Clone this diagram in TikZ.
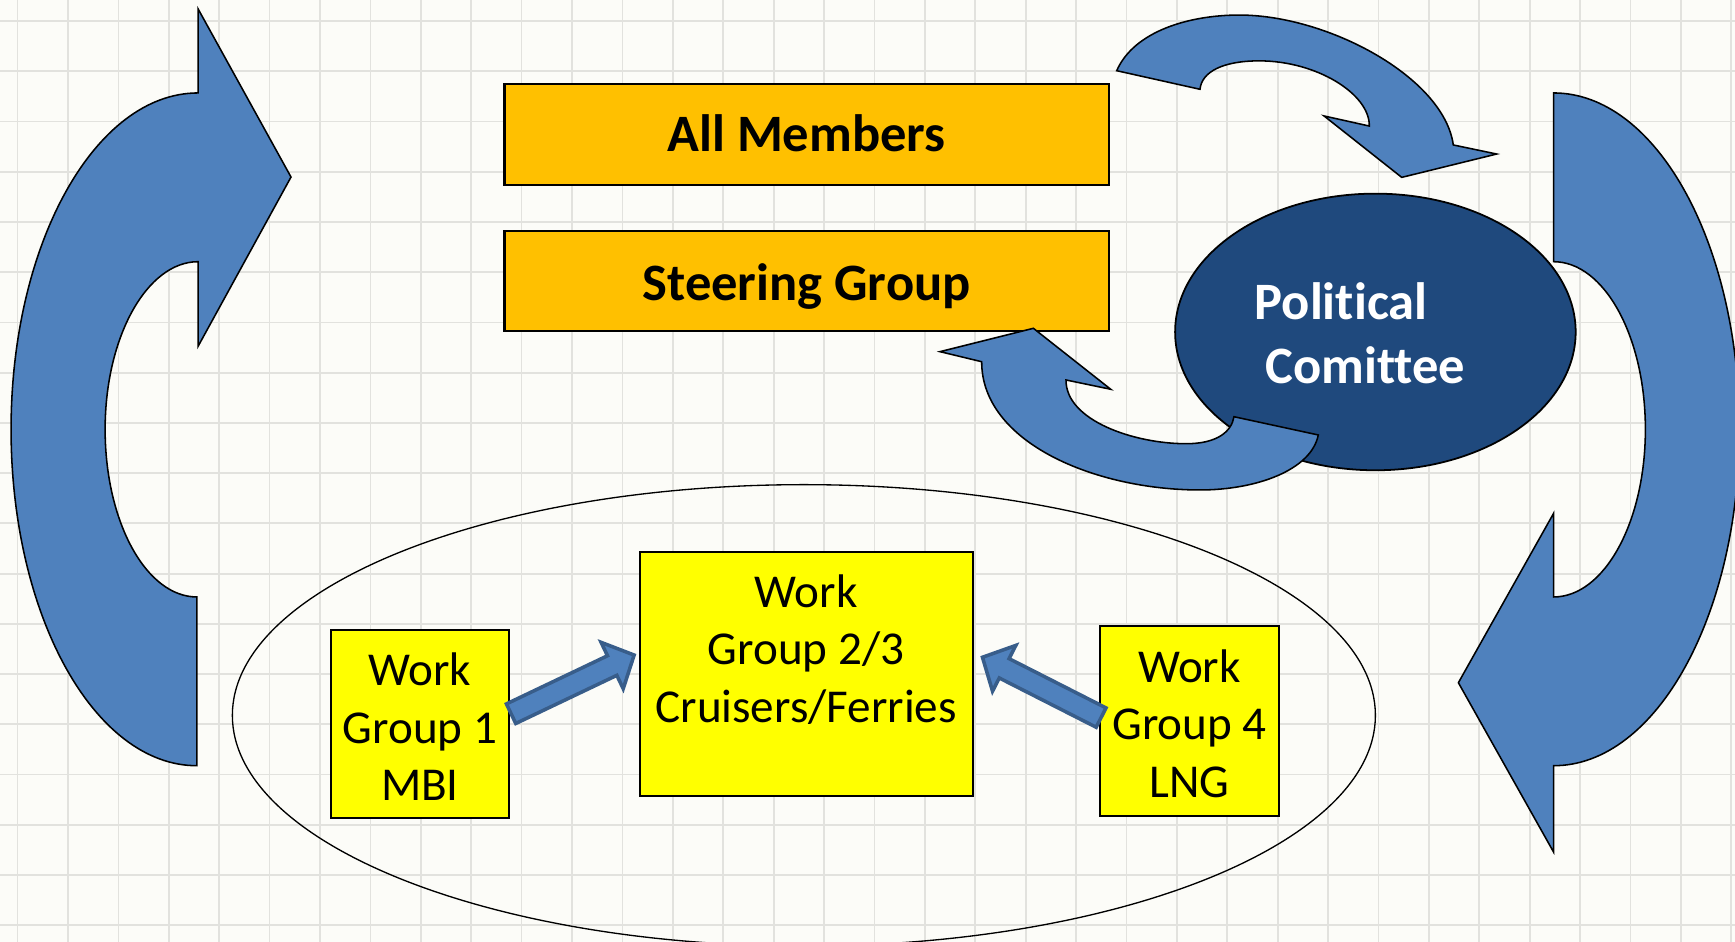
\documentclass[tikz,border=0pt]{standalone}
\usepackage{fontspec}
\setmainfont{Carlito}[Ligatures=NoCommon, RawFeature={-liga;-clig;-dlig;-calt}]
\usetikzlibrary{calc,shapes.geometric}
\definecolor{bgc}{RGB}{252,252,248}
\definecolor{gridc}{RGB}{226,226,222}
\definecolor{arrowblue}{RGB}{79,129,189}
\definecolor{arrowedge}{RGB}{56,93,138}
\definecolor{darkblue}{RGB}{31,73,125}
\definecolor{orangebox}{RGB}{255,192,0}
\definecolor{yellowbox}{RGB}{255,255,0}
\tikzset{
 bigbox/.style={draw=black, line width=1pt, fill=orangebox, minimum width=273pt, minimum height=45.5pt, inner sep=0pt, text height=15.8pt, text depth=0pt, font=\fontsize{23.75}{28}\selectfont\bfseries},
 wgbox/.style={draw=black, line width=0.9pt, fill=yellowbox, inner sep=0pt},
 wgtext/.style={align=center, font=\fontsize{21.3}{26}\selectfont, inner sep=0pt},
 curvearrow/.style={fill=arrowblue, draw=black, line width=0.7pt, line join=miter},
 blockarrow/.style={fill=arrowblue, draw=arrowedge, line width=1.6pt, line join=miter},
 pctext/.style={text=white, font=\fontsize{23.75}{28}\selectfont\bfseries, inner sep=0pt},
 gridline/.style={draw=gridc, line width=0.8pt},
}
\newcommand\blockarr[2]{%
 \coordinate (#1H) at ($(#2)!11pt!(#1)$);
 \draw[blockarrow] ($(#1)!4.9pt!90:(#2)$) -- ($(#1H)!4.9pt!-90:(#1)$) -- ($(#1H)!11.6pt!-90:(#1)$) -- (#2) -- ($(#1H)!11.6pt!90:(#1)$) -- ($(#1H)!4.9pt!90:(#1)$) -- ($(#1)!4.9pt!-90:(#2)$) -- cycle;
}
\begin{document}
\begin{tikzpicture}[x=0.5pt, y=-0.5pt]
\useasboundingbox (0,0) rectangle (1568,851);
\fill[bgc] (0,0) rectangle (1568,851);
\foreach \i in {0,...,34} \draw[gridline] ({15.9+45.55*\i},0) -- ({15.9+45.55*\i},851);
\foreach \j in {0,...,18} \draw[gridline] (0,{19+45.4*\j}) -- (1568,{19+45.4*\j});

% group ellipse
\node[draw=black, line width=0.6pt, ellipse, minimum width=516.5pt, minimum height=208.5pt, inner sep=0pt] (grp) at (726.5,646.5) {};

% boxes
\node[bigbox] (all) at (729,121.5) {All Members};
\node[bigbox, minimum height=45pt, text height=17.6pt] (steer) at (729,254) {Steering Group};

\node[wgbox, minimum width=80.5pt, minimum height=85pt] (wg1) at (379.5,654) {};
\node[wgtext] (wg1t) at (379.5,657) {Work\\Group 1\\MBI};
\node[wgbox, minimum width=150.5pt, minimum height=110pt] (wg23) at (728.5,609) {};
\node[wgtext] (wg23t) at (728.5,587) {Work\\Group 2/3\\Cruisers/Ferries};
\node[wgbox, minimum width=81pt, minimum height=85.5pt] (wg4) at (1075,651.5) {};
\node[wgtext] (wg4t) at (1075,654) {Work\\Group 4\\LNG};

% small block arrows
\coordinate (a1s) at ($(wg1.east)+(1,-9)$);
\coordinate (a1e) at ($(wg23.west)+(-4,-17)$);
\blockarr{a1s}{a1e}
\coordinate (a2s) at ($(wg4.west)+(2,-3)$);
\coordinate (a2e) at ($(wg23.east)+(8,-15)$);
\blockarr{a2s}{a2e}

% big left curved arrow
\draw[curvearrow] (178,692) .. controls (85.2,692) and (10,555.9) .. (10,388) .. controls (10,220.1) and (86,84) .. (179,84) -- (179,8) -- (263,160) -- (179,313) -- (179,236.5) .. controls (133,236.5) and (95,304.3) .. (95,388) .. controls (95,471.7) and (132.2,539.5) .. (178,539.5) -- cycle;

% big right curved arrow
\draw[curvearrow] (1404,84) .. controls (1496.8,84) and (1572,220.1) .. (1572,388) .. controls (1572,555.9) and (1496.8,692) .. (1404,692) -- (1404,770) -- (1318,617) -- (1404,464) -- (1404,539.5) .. controls (1449.8,539.5) and (1487,471.7) .. (1487,388) .. controls (1487,304.3) and (1449.8,236.5) .. (1404,236.5) -- cycle;

% political committee
\node[draw=black, line width=0.8pt, fill=darkblue, ellipse, minimum width=181pt, minimum height=125pt, inner sep=0pt] (pc) at (1243,300) {};

% top curved arrow
\draw[curvearrow] (1009.2,63.9) .. controls (1025,28) and (1075,13.6) .. (1120,13.6) .. controls (1200,13.6) and (1305,70) .. (1313.4,131) -- (1352.6,139.2) -- (1266.8,160.3) -- (1196.6,104.8) -- (1237.5,113.9) .. controls (1238,85) and (1190,55) .. (1138,55) .. controls (1105,55) and (1086,65) .. (1084.5,80.7) -- cycle;

% bottom curved arrow
\draw[curvearrow] (1191.4,393.1) .. controls (1185,425) and (1135,442.8) .. (1084.5,442.8) .. controls (990,442.8) and (887,400) .. (887.2,326.9) -- (849.5,317.8) -- (933.9,296.7) -- (1003.8,351.8) -- (963.4,343.4) .. controls (963,380) and (1025,401) .. (1072,401) .. controls (1100,401) and (1113,390) .. (1115.2,376.6) -- cycle;

\node[pctext] (pc1) at (1212,272) {Political};
\node[pctext] (pc2) at (1234,330) {Comittee};
\end{tikzpicture}
\end{document}
